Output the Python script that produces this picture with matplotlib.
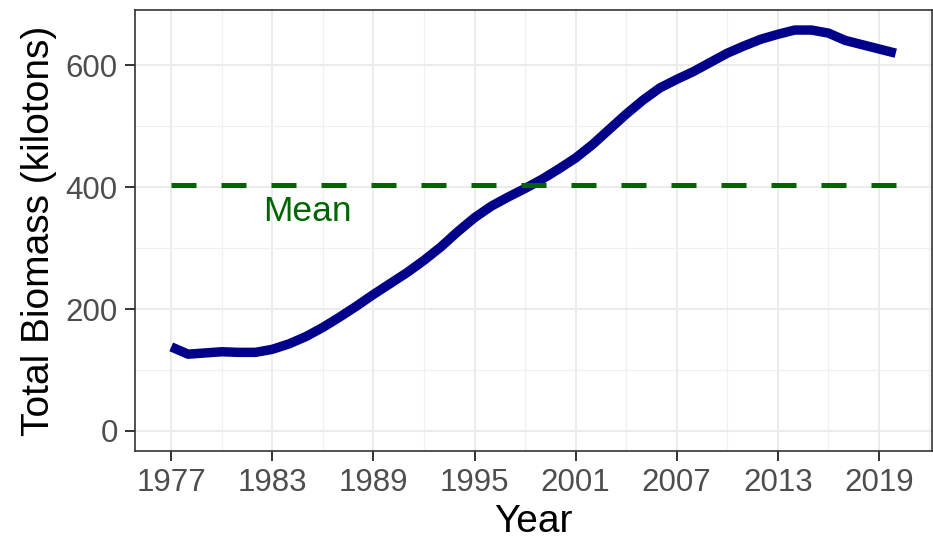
import numpy as np
import matplotlib
matplotlib.use("Agg")
import matplotlib.pyplot as plt
from matplotlib.ticker import FixedLocator

# data
years = np.arange(1977, 2021)
biomass = [138, 126, 128, 130, 129, 129, 134, 143, 155, 170,
           187, 205, 224, 242, 260, 280, 302, 327, 350, 369,
           384, 398, 413, 430, 448, 470, 495, 520, 543, 563,
           577, 590, 605, 620, 632, 643, 651, 658, 658, 653,
           641, 634, 627, 620]
mean_value = 404
x_ticks = [1977, 1983, 1989, 1995, 2001, 2007, 2013, 2019]
y_ticks = [0, 200, 400, 600]

plt.rcParams['font.family'] = ['Liberation Sans', 'DejaVu Sans']

fig = plt.figure(figsize=(9.33, 5.41), dpi=100)
ax = fig.add_axes([135 / 933, 1 - 451 / 541, 797 / 933, 441 / 541])

ax.plot(years, biomass, color='#00008B', linewidth=6.8, solid_capstyle='butt', zorder=3)
ax.plot([years[0], years[-1]], [mean_value, mean_value], color='#006400',
        linewidth=3.6, linestyle=(0, (5, 5)), dash_capstyle='butt', zorder=3)
ax.text(1985.1, 360, 'Mean', color='#006400', fontsize=25.5, ha='center', va='center')

# ggplot-like limits (5% expansion)
x0, x1 = years[0], years[-1]
dx = (x1 - x0) * 0.05
ax.set_xlim(x0 - dx, x1 + dx)
y0, y1 = 0, max(biomass)
dy = (y1 - y0) * 0.05
ax.set_ylim(y0 - dy, y1 + dy)

ax.xaxis.set_major_locator(FixedLocator(x_ticks))
ax.xaxis.set_minor_locator(FixedLocator([t + 3 for t in x_ticks]))
ax.yaxis.set_major_locator(FixedLocator(y_ticks))
ax.yaxis.set_minor_locator(FixedLocator([100, 300, 500]))

ax.grid(which='major', color='#EBEBEB', linewidth=1.4, zorder=0)
ax.grid(which='minor', color='#F0F0F0', linewidth=0.9, zorder=0)
ax.set_axisbelow(True)

for sp in ax.spines.values():
    sp.set_color('#333333')
    sp.set_linewidth(1.2)

ax.tick_params(which='major', length=7.5, width=1.4, color='#333333',
               labelsize=22.5, labelcolor='#4D4D4D', pad=5)
ax.tick_params(which='minor', length=0)

ax.set_xlabel('Year', fontsize=28, labelpad=4)
ax.set_ylabel('Total Biomass (kilotons)', fontsize=28, labelpad=6)

fig.savefig('out.png', dpi=100)
